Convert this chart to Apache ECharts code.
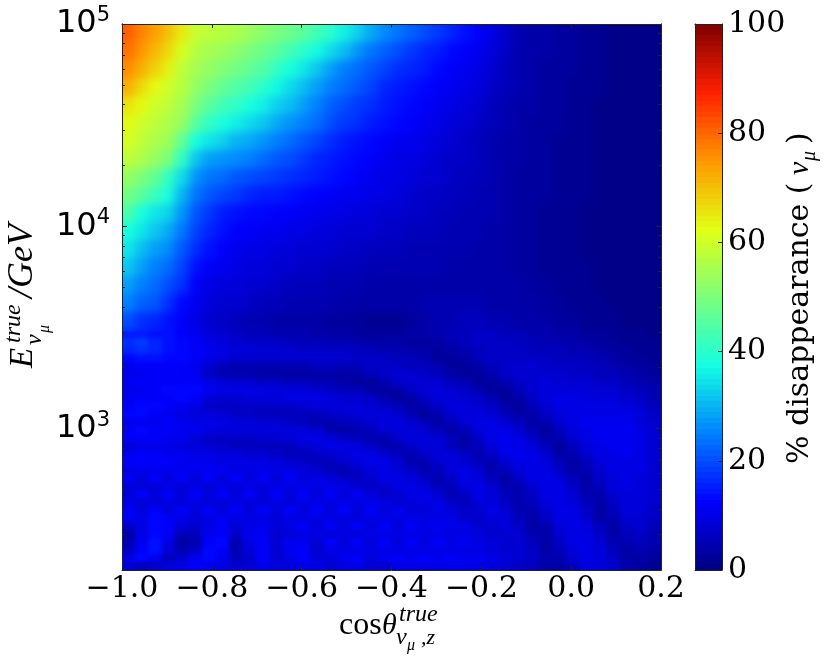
<!DOCTYPE html>
<html><head><meta charset="utf-8">
<style>html,body{margin:0;padding:0;background:#fff}#c{width:830px;height:664px}
#c canvas:nth-of-type(1){filter:blur(5px);clip-path:inset(24px 169px 334px 122px)}
#c canvas:nth-of-type(2){filter:blur(2px);clip-path:inset(330px 169px 94px 122px)}
</style>
<script src="https://cdn.jsdelivr.net/npm/echarts@6/dist/echarts.min.js"></script>
</head><body><div id="c"></div>
<script>
// cos(theta) range, one column every 0.03
const cosEdges=[-1,-0.97,-0.94,-0.91,-0.88,-0.85,-0.82,-0.79,-0.76,-0.73,-0.7,-0.67,-0.64,-0.61,-0.58,-0.55,-0.52,-0.49,-0.46,-0.43,-0.4,-0.37,-0.34,-0.31,-0.28,-0.25,-0.22,-0.19,-0.16,-0.13,-0.1,-0.07,-0.04,-0.01,0.02,0.05,0.08,0.11,0.14,0.17,0.2];
// log10(E/GeV) of the row edges, from the top down
const logEnergyEdges=[5,4.911,4.822,4.733,4.644,4.554,4.465,4.376,4.287,4.198,4.109,4.02,3.931,3.842,3.752,3.663,3.574,3.485,3.445,3.406,3.366,3.327,3.287,3.248,3.208,3.168,3.129,3.089,3.05,3.01,2.97,2.931,2.891,2.851,2.812,2.772,2.733,2.693,2.653,2.614,2.574,2.535,2.495,2.455,2.416,2.376,2.337,2.301];
// % disappearance
const disappearance=[
[81,77,74,70,65,59,58,57,56,54,52,50,48,46,43,40,36,33,29,26,24,22,20,18,16,14,12,10,7,5,4,4,3,3,2,2,1,1,1,1],
[79,75,71,67,61,57,55,54,52,50,48,46,43,40,37,34,31,27,24,22,20,18,16,15,13,12,11,9,7,5,4,4,3,3,2,2,1,1,1,1],
[76,72,68,64,58,55,53,51,49,47,45,41,38,35,32,28,25,23,21,19,17,16,15,13,12,11,10,8,6,5,4,3,3,3,2,2,1,1,1,1],
[72,67,63,60,57,53,50,47,45,43,40,37,34,31,28,25,23,21,19,16,15,14,13,12,11,10,9,7,6,5,4,3,3,2,2,2,1,1,1,1],
[66,63,60,58,55,50,46,43,41,38,36,33,31,28,25,22,20,18,17,15,14,13,12,11,10,9,8,6,5,4,4,3,3,2,2,1,1,1,1,1],
[63,60,58,56,53,46,41,38,36,34,32,29,27,25,23,20,18,17,15,14,13,12,11,10,9,8,7,6,5,4,3,3,3,2,2,1,1,1,1,1],
[61,58,56,54,47,38,35,33,30,29,27,25,23,21,19,17,15,14,13,12,11,11,10,9,8,7,6,5,4,4,3,3,2,2,2,1,1,1,1,1],
[58,56,53,50,41,32,28,27,26,25,23,21,20,18,16,15,14,13,12,11,10,10,9,8,7,7,6,5,4,4,3,3,2,2,2,1,1,1,1,1],
[53,50,47,41,34,27,24,23,21,20,19,18,17,16,15,14,13,12,11,10,10,9,8,8,7,6,6,5,4,3,3,3,2,2,2,1,1,1,1,1],
[49,46,42,38,30,24,21,19,18,16,15,15,14,13,12,12,11,11,10,10,9,8,7,7,6,6,5,5,4,3,3,3,2,2,2,1,1,1,1,1],
[44,38,35,33,27,21,18,15,14,13,13,12,12,11,11,10,10,9,9,8,8,7,7,6,6,5,5,5,4,3,3,2,2,2,1,1,1,1,1,1],
[38,35,32,29,24,19,16,14,12,12,11,11,10,10,9,9,8,8,8,7,7,6,6,6,5,5,5,4,4,3,3,2,2,2,1,1,1,1,1,1],
[35,31,28,26,21,17,14,12,11,10,10,9,9,8,8,8,7,7,6,6,6,5,5,5,5,5,4,4,4,3,3,2,2,2,1,1,1,1,1,1],
[32,28,25,23,19,14,12,11,10,9,9,8,8,7,7,6,6,6,5,5,5,5,5,5,4,4,4,4,4,3,3,2,2,2,2,1,1,1,1,1],
[28,25,23,20,17,12,10,9,9,8,8,7,6,6,6,5,5,5,4,4,4,4,4,4,4,4,4,4,4,4,3,3,2,2,2,1,1,1,1,1],
[25,22,21,17,13,11,9,8,8,7,6,6,5,5,5,5,4,4,4,4,4,4,5,5,5,5,5,4,4,4,4,3,3,2,2,2,1,1,1,1],
[20,17,16,14,12,10,8,7,6,5,5,4,4,4,4,3,3,3,2,2,2,3,4,5,5,6,6,5,5,4,4,4,3,3,2,2,2,1,1,1],
[15,15,14,14,12,11,9,8,7,6,6,5,5,5,4,4,4,3,3,3,3,4,4,5,6,6,7,7,6,6,5,5,4,4,3,3,2,2,2,1],
[17,18,16,14,13,12,10,9,8,7,7,7,6,6,6,5,5,5,4,4,4,3,3,4,5,6,7,7,7,6,6,5,5,5,4,3,3,2,2,2],
[16,17,16,14,13,12,11,10,9,9,8,8,8,7,7,7,7,6,6,5,5,4,4,3,4,5,6,7,7,7,6,6,6,5,5,4,3,3,2,2],
[13,14,14,13,13,12,10,9,8,8,8,8,8,8,8,8,8,7,7,7,6,6,5,3,3,4,6,7,7,7,7,7,6,6,6,5,4,3,3,2],
[11,12,12,12,12,11,8,6,5,5,5,5,5,5,6,6,5,6,7,7,7,6,6,5,3,3,4,6,7,8,8,7,7,7,6,6,5,4,3,3],
[11,11,12,12,12,11,7,5,5,5,4,4,4,4,4,4,4,4,6,7,8,8,7,6,4,3,3,5,7,8,8,8,8,7,7,6,6,5,4,3],
[11,12,12,12,12,12,10,9,8,8,7,7,6,6,5,5,4,3,3,5,7,8,8,8,6,5,3,3,5,7,8,9,8,8,8,7,7,6,5,4],
[11,11,12,13,13,13,11,10,10,10,10,9,9,9,8,7,6,6,4,3,4,7,8,9,8,7,5,3,3,6,8,9,9,9,9,8,8,7,6,5],
[11,12,12,12,13,12,9,8,8,9,9,9,10,10,10,9,8,8,7,5,3,4,7,9,9,8,7,5,3,4,7,9,10,10,9,9,9,8,7,5],
[12,13,13,12,11,10,7,7,7,7,7,7,7,8,9,9,9,9,8,7,6,4,5,7,9,9,8,7,4,3,6,8,10,10,10,10,10,9,8,6],
[13,13,12,11,10,9,9,8,7,7,6,6,6,6,6,7,8,9,9,9,8,5,3,5,8,9,9,8,6,4,4,7,9,10,10,10,10,10,9,7],
[11,11,11,12,11,10,10,10,9,9,8,8,7,6,5,5,6,7,8,9,9,8,6,4,6,8,10,10,8,6,4,5,8,10,11,11,11,11,9,8],
[12,13,12,12,11,11,10,9,9,9,9,9,9,9,8,5,4,5,6,8,9,9,8,6,4,6,9,10,10,8,5,3,6,9,10,11,11,11,10,8],
[12,12,12,11,11,9,7,7,7,7,8,8,9,10,10,9,7,6,5,5,7,9,9,8,6,4,7,10,11,10,7,4,5,8,10,11,11,11,10,8],
[9,10,10,10,9,9,8,7,6,6,6,6,6,8,9,10,10,9,7,5,5,7,9,9,6,4,6,9,11,10,9,6,3,6,9,10,11,11,10,8],
[11,12,12,11,11,10,10,9,9,8,8,7,6,6,7,8,9,10,10,8,6,5,7,9,9,7,5,7,10,11,10,8,4,5,8,10,10,11,10,8],
[12,12,12,12,11,11,11,10,10,10,10,9,8,7,6,6,8,9,10,10,8,5,5,8,9,8,6,5,8,10,10,9,6,4,6,9,10,10,10,8],
[10,11,11,11,11,11,11,11,10,10,10,10,10,9,8,6,5,7,9,10,9,7,5,6,9,10,8,5,6,9,10,10,7,4,5,8,10,10,10,8],
[12,9,12,9,12,9,12,9,12,9,12,9,12,9,10,9,7,6,8,10,10,9,7,5,7,10,9,6,4,7,10,10,9,6,4,7,9,10,9,8],
[9,9,9,10,9,10,9,10,9,10,9,10,10,10,10,10,10,8,7,8,10,10,9,6,6,9,10,8,5,5,8,10,10,7,4,6,9,10,9,8],
[9,12,9,12,9,12,9,12,9,12,9,12,9,12,9,12,9,11,9,7,8,10,10,8,5,7,10,9,6,5,7,10,10,8,5,5,8,9,9,8],
[10,9,9,10,9,10,9,9,10,9,9,10,9,10,10,10,10,10,10,10,8,9,10,10,7,6,9,9,7,5,6,9,10,9,6,4,7,9,9,8],
[12,9,12,9,12,9,12,9,12,9,12,9,12,9,12,9,12,9,12,9,11,9,9,10,9,7,8,10,8,5,5,8,10,10,7,4,6,9,9,7],
[11,10,13,12,10,9,10,11,10,10,10,9,10,10,10,10,10,9,10,10,10,10,10,10,10,8,7,9,9,6,4,7,10,10,8,4,5,8,8,7],
[7,10,13,12,9,8,10,12,9,10,11,9,10,12,9,12,9,12,9,12,9,12,10,11,10,10,8,8,9,7,4,5,9,10,9,6,4,7,8,6],
[4,10,13,11,6,6,11,12,7,11,11,8,9,10,10,9,10,9,10,10,10,10,10,10,10,10,9,8,8,8,5,4,8,10,10,7,4,6,7,5],
[5,11,14,10,4,5,12,13,5,10,12,8,11,11,8,12,9,12,9,12,9,12,9,12,10,11,10,9,8,8,6,4,7,10,10,8,5,5,6,5],
[7,12,14,9,5,7,13,12,5,9,12,8,11,12,8,10,10,10,10,10,10,10,10,10,10,10,10,9,8,8,7,4,6,9,10,9,6,4,5,4],
[10,13,11,6,8,11,13,11,6,8,12,8,10,12,9,9,11,12,9,11,12,11,12,11,12,11,11,10,9,8,7,5,5,8,10,9,7,4,4,3],
[8,6,7,9,10,12,11,10,8,8,10,9,9,10,10,8,9,10,8,8,10,10,10,10,10,10,10,9,8,7,6,4,4,6,9,9,7,4,3,2]
];
const cosTicks=[-1,-0.8,-0.6,-0.4,-0.2,0,0.2];
const energyMajorTicks=[1000,10000,100000];
const energyMinorTicks=[200,300,400,500,600,700,800,900,2000,3000,4000,5000,6000,7000,8000,9000,20000,30000,40000,50000,60000,70000,80000,90000];
const colorbarTicks=[0,20,40,60,80,100];
const jetColors=['#00007f','#0000ff','#0080ff','#14ffe2','#7bff7b','#e2ff14','#ff9700','#ff2000','#7f0000'];

const cells=[];
disappearance.forEach((row,r)=>row.forEach((v,c)=>{
  const e0=Math.pow(10,logEnergyEdges[r+1]),e1=Math.pow(10,logEnergyEdges[r]);
  cells.push([(cosEdges[c]+cosEdges[c+1])/2,Math.sqrt(e0*e1),v,cosEdges[c],cosEdges[c+1],e0,e1]);
}));
const barCells=[];
for(let l=0;l<100;l++) barCells.push([0.5,l+0.5,l+0.5,0,1,l,l+1]);
function rectOf(a,b,api,bleed){
  let x0=Math.floor(a[0]),y0=Math.floor(a[1]),x1=Math.ceil(b[0]),y1=Math.ceil(b[1]);
  if(bleed){
    if(api.value(3)<=cosEdges[0]) x0-=30;
    if(api.value(4)>=cosEdges[cosEdges.length-1]) x1+=30;
    if(api.value(6)>=Math.pow(10,logEnergyEdges[0])*0.999) y0-=30;
    if(api.value(5)<=Math.pow(10,logEnergyEdges[logEnergyEdges.length-1])*1.001) y1+=30;
  }
  return {type:'rect',shape:{x:x0,y:y0,width:x1-x0,height:y1-y0},style:{fill:api.visual('color')},silent:true};
}
function renderCell(params,api){return rectOf(api.coord([api.value(3),api.value(6)]),api.coord([api.value(4),api.value(5)]),api,true);}
function renderBar(params,api){return rectOf(api.coord([api.value(3),api.value(6)]),api.coord([api.value(4),api.value(5)]),api,false);}
const SERIF='"DejaVu Serif"',SANS='"DejaVu Sans"',MATH='"Liberation Serif"';
const LZ=2;
const line={show:true,onZero:false,lineStyle:{color:'#222',width:1}};
const fmtCos=v=>v==0?'0.0':(v<0?'\u2212':'')+Math.abs(v).toFixed(1);
function xAx(pos,label){return {type:'value',zlevel:LZ,gridIndex:0,position:pos,min:-1,max:0.2,interval:0.2,splitLine:{show:false},axisLine:line,
  axisTick:{show:true,inside:true,length:4,lineStyle:{color:'#222'},customValues:cosTicks},
  axisLabel:{show:label,margin:4,fontFamily:SERIF,fontSize:30,color:'#000',customValues:cosTicks,formatter:fmtCos,hideOverlap:false,showMinLabel:true,showMaxLabel:true}};}
function yAx(pos,vals,len,label){return {type:'log',zlevel:LZ,logBase:10,gridIndex:0,position:pos,min:200,max:100000,splitLine:{show:false},axisLine:line,
  axisTick:{show:true,inside:true,length:len,lineStyle:{color:'#222'},customValues:vals},
  axisLabel:{show:label,margin:12,customValues:vals,hideOverlap:false,showMinLabel:true,showMaxLabel:true,
    formatter:v=>'{b|10}{s|'+Math.round(Math.log10(v))+'}',
    rich:{b:{fontFamily:SANS,fontSize:32,color:'#000',lineHeight:38},s:{fontFamily:SANS,fontSize:21,color:'#000',verticalAlign:'top',lineHeight:38}}}};}
function T(x,y,text,size,font,style){return {type:'text',zlevel:LZ,x:x,y:y-0.34*size,style:{text:text,fontSize:size,fontFamily:font||MATH,fontStyle:style||'normal',fill:'#000',verticalAlign:'middle'}};}
const chart=echarts.init(document.getElementById('c'),null,{renderer:'canvas'});
chart.setOption({
  animation:false,
  grid:[{left:122,top:24,width:539,height:546},{left:695,top:24,width:27,height:546}],
  xAxis:[xAx('bottom',true),xAx('top',false),
    {type:'value',zlevel:LZ,gridIndex:1,min:0,max:1,position:'bottom',axisLine:line,axisTick:{show:false},axisLabel:{show:false},splitLine:{show:false}},
    {type:'value',zlevel:LZ,gridIndex:1,min:0,max:1,position:'top',axisLine:line,axisTick:{show:false},axisLabel:{show:false},splitLine:{show:false}}],
  yAxis:[yAx('left',energyMajorTicks,5,true),yAx('left',energyMinorTicks,3,false),yAx('right',energyMajorTicks,5,false),yAx('right',energyMinorTicks,3,false),
    {type:'value',zlevel:LZ,gridIndex:1,min:0,max:100,interval:20,position:'right',splitLine:{show:false},axisLine:line,
     axisTick:{show:true,inside:true,length:4,lineStyle:{color:'#222'},customValues:colorbarTicks},
     axisLabel:{margin:6,fontFamily:SERIF,fontSize:30,color:'#000'}},
    {type:'value',zlevel:LZ,gridIndex:1,min:0,max:100,position:'left',splitLine:{show:false},axisLine:line,axisTick:{show:false},axisLabel:{show:false}}],
  visualMap:{show:false,type:'continuous',seriesIndex:[0,1,2],dimension:2,min:0,max:100,inRange:{color:jetColors}},
  series:[
    {type:'custom',zlevel:0,xAxisIndex:0,yAxisIndex:0,data:cells,encode:{x:0,y:1},renderItem:renderCell,clip:false},
    {type:'custom',zlevel:1,xAxisIndex:0,yAxisIndex:0,data:cells,encode:{x:0,y:1},renderItem:renderCell,clip:false},
    {type:'custom',zlevel:LZ,z:-1,xAxisIndex:2,yAxisIndex:4,data:barCells,encode:{x:0,y:1},renderItem:renderBar}
  ],
  graphic:[
    {type:'group',zlevel:LZ,children:[
      T(339,636,'cos',32),T(382,636,'\u03b8',30,MATH,'italic'),T(399,623,'true',24,MATH,'italic'),T(396,646,'\u03bd',24,MATH,'italic'),T(407,651,'\u03bc',16,MATH,'italic'),T(421,646,',z',22,MATH,'italic')]},
    {type:'group',zlevel:LZ,x:35,y:368,rotation:Math.PI/2,children:[
      T(0,0,'E',33,MATH,'italic'),T(25,-13,'true',24,MATH,'italic'),T(23,8,'\u03bd',24,MATH,'italic'),T(35,15,'\u03bc',16,MATH,'italic'),T(70,0,'/GeV',36,MATH,'italic')]},
    {type:'group',zlevel:LZ,x:810,y:464,rotation:Math.PI/2,children:[
      T(0,0,'% disappearance (',30,SERIF),T(289,0,'\u03bd',30,MATH,'italic'),T(303,7,'\u03bc',20,MATH,'italic'),T(320,0,')',30,SERIF)]}
  ]
});
</script></body></html>
